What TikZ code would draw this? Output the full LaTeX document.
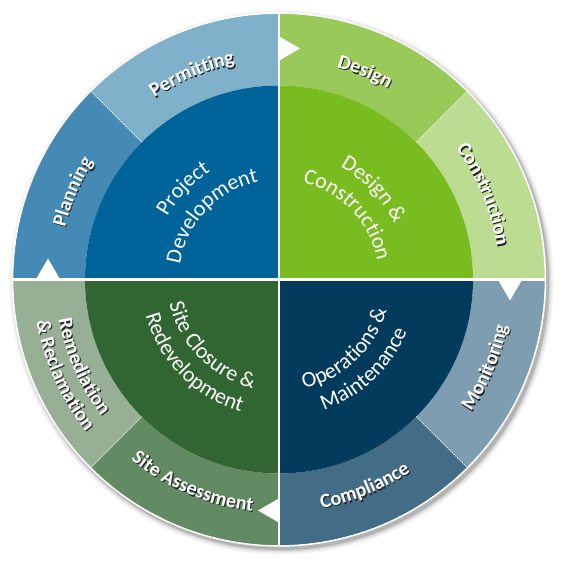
\documentclass[tikz,border=0pt]{standalone}
\usepackage{fontspec}
\setmainfont{Carlito}
\usetikzlibrary{decorations.text}
\definecolor{cPlan}{HTML}{4589B5}
\definecolor{cPerm}{HTML}{7FB1CB}
\definecolor{cPD}{HTML}{006399}
\definecolor{cDes}{HTML}{99C959}
\definecolor{cCon}{HTML}{BCDD91}
\definecolor{cDC}{HTML}{79BC20}
\definecolor{cMon}{HTML}{7F9DB0}
\definecolor{cComp}{HTML}{436D86}
\definecolor{cOM}{HTML}{023B5B}
\definecolor{cRem}{HTML}{97B095}
\definecolor{cSA}{HTML}{638B63}
\definecolor{cSC}{HTML}{316532}
\definecolor{cShad}{HTML}{262626}

\newcommand\ringseg[3]{%
  \fill[#3] (#1:194) arc[start angle=#1,end angle=#2,radius=194] -- (#2:266) arc[start angle=#2,end angle=#1,radius=266] -- cycle;}
\newcommand\coreseg[3]{%
  \fill[#3] (0,0) -- (#1:194) arc[start angle=#1,end angle=#2,radius=194] -- cycle;}
% outer bold labels with shadow; cw = top half (tops outward), ccw = bottom half (tops inward)
\newcommand\olabcw[3]{%
  \path[decorate,shift={(1.1,-1.3)},decoration={text along path,text align=center,text color=cShad,
     text={|\bfseries\fontsize{20}{20}\selectfont|#3}}]
    ({#1+85}:#2) arc[start angle={#1+85},end angle={#1-85},radius=#2];
  \path[decorate,decoration={text along path,text align=center,text color=white,
     text={|\bfseries\fontsize{20}{20}\selectfont|#3}}]
    ({#1+85}:#2) arc[start angle={#1+85},end angle={#1-85},radius=#2];}
\newcommand\olabccw[3]{%
  \path[decorate,shift={(1.1,-1.3)},decoration={text along path,text align=center,text color=cShad,
     text={|\bfseries\fontsize{20}{20}\selectfont|#3}}]
    ({#1-85}:#2) arc[start angle={#1-85},end angle={#1+85},radius=#2];
  \path[decorate,decoration={text along path,text align=center,text color=white,
     text={|\bfseries\fontsize{20}{20}\selectfont|#3}}]
    ({#1-85}:#2) arc[start angle={#1-85},end angle={#1+85},radius=#2];}
% inner regular labels
\newcommand\ilabcw[3]{%
  \path[decorate,decoration={text along path,text align=center,text color=white,
     text={|\fontsize{22}{22}\selectfont|#3}}]
    ({#1+85}:#2) arc[start angle={#1+85},end angle={#1-85},radius=#2];}
\newcommand\ilabccw[3]{%
  \path[decorate,decoration={text along path,text align=center,text color=white,
     text={|\fontsize{22}{22}\selectfont|#3}}]
    ({#1-85}:#2) arc[start angle={#1-85},end angle={#1+85},radius=#2];}

\begin{document}
\begin{tikzpicture}[x=1pt,y=1pt]
\useasboundingbox (0,0) rectangle (561,561);
\begin{scope}[shift={(279,281.5)}]
  % soft shadow
  \foreach \r/\o in {272/0.05,270/0.07,268.5/0.09,267.5/0.12}{
    \fill[black,opacity=\o] (2.5,-3) circle[radius=\r];
  }
  \fill[white] (0,0) circle[radius=267.2];
  % outer ring segments
  \ringseg{90}{135}{cPerm}
  \ringseg{135}{180}{cPlan}
  \ringseg{45}{90}{cDes}
  \ringseg{0}{45}{cCon}
  \ringseg{-45}{0}{cMon}
  \ringseg{-90}{-45}{cComp}
  \ringseg{-135}{-90}{cSA}
  \ringseg{180}{225}{cRem}
  % core quadrants
  \coreseg{90}{180}{cPD}
  \coreseg{0}{90}{cDC}
  \coreseg{-90}{0}{cOM}
  \coreseg{180}{270}{cSC}
  % white rim and cross
  \draw[white,line width=1] (0,0) circle[radius=266.2];
  \draw[white,line width=2.2] (-266,0) -- (266,0);
  \draw[white,line width=2.2] (0,-266) -- (0,266);
  % dotted separators
  \foreach \a in {45,135,-45,-135}{
    \draw[white,line width=0.7,dash pattern=on 1.4pt off 1pt] (\a:194) -- (\a:266);
  }
  % white triangles
  \foreach \a in {90,0,-90,180}{
    \fill[white,rotate=\a] (219.5,-1.1) -- (242.5,-1.1) -- (231,-21) -- cycle;
  }
  % outer labels
  \olabcw{113}{220}{Permitting}
  \olabcw{157}{220}{Planning}
  \olabcw{67.5}{220}{Design}
  \olabcw{22.5}{220}{Construction}
  \olabccw{-23}{233}{Monitoring}
  \olabccw{-67.5}{233}{Compliance}
  \olabccw{-113}{233}{Site Assessment}
  \olabccw{-156}{224}{Remediation}
  \olabccw{-156}{246}{{\&} Reclamation}
  % inner labels
  \ilabcw{136.5}{128}{Project}
  \ilabcw{136.5}{100}{Development}
  \ilabcw{43.5}{128}{Design {\&}}
  \ilabcw{43.5}{100}{Construction}
  \ilabccw{-46.5}{112}{Operations {\&}}
  \ilabccw{-46.5}{138}{Maintenance}
  \ilabccw{-135.5}{112}{Site Closure {\&}}
  \ilabccw{-135.5}{138}{Redevelopment}
\end{scope}
\end{tikzpicture}
\end{document}
